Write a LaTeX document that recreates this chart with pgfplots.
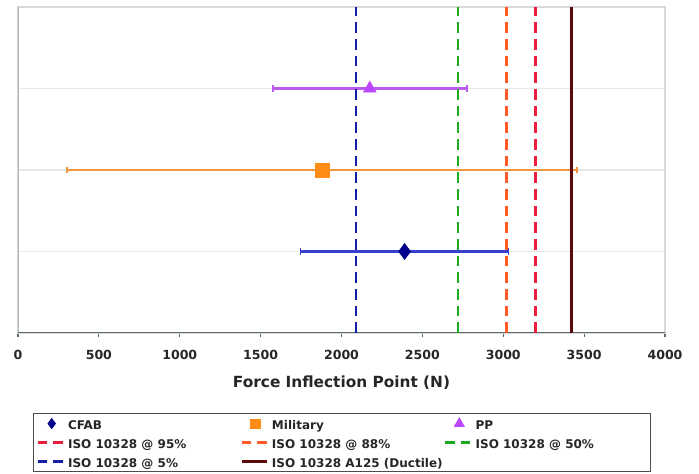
\documentclass[border=0pt]{standalone}
\usepackage{pgfplots}
\pgfplotsset{compat=1.18}
\usepackage{fontspec}
\setmainfont{DejaVu Sans}
\definecolor{cfabM}{RGB}{0,0,140}
\definecolor{cfabB}{RGB}{55,65,205}
\definecolor{milM}{RGB}{255,140,20}
\definecolor{milB}{RGB}{242,150,60}
\definecolor{ppM}{RGB}{190,70,255}
\definecolor{ppB}{RGB}{185,90,240}
\definecolor{iso95}{RGB}{235,30,60}
\definecolor{iso88}{RGB}{255,90,40}
\definecolor{iso50}{RGB}{30,170,30}
\definecolor{iso5}{RGB}{20,30,170}
\definecolor{isoA}{RGB}{90,10,10}
\definecolor{axdark}{RGB}{90,105,105}
\newcommand{\LE}[1]{\makebox[129pt][l]{\rule[-4.5pt]{0pt}{14.25pt}#1}}
\pgfplotsset{
  markleg/.style={legend image code/.code={\draw[##1, mark size=#1] plot coordinates {(10.5pt,0pt)};}},
  dashleg/.style={legend image code/.code={\draw[##1, line width=2pt, dash pattern=on 7pt off 4.75pt] (0pt,0pt) -- (18.75pt,0pt);}},
  solidleg/.style={legend image code/.code={\draw[##1, line width=2.2pt] (0pt,0pt) -- (18.75pt,0pt);}},
  ebar/.style={forget plot, color=#1, line width=2pt, mark=|, mark size=2.6pt, mark options={line width=1.2pt}},
}
\begin{document}
\begin{tikzpicture}
\begin{axis}[
  at={(0,0)}, anchor=south west,
  scale only axis, width=485.25pt, height=244.5pt,
  xmin=0, xmax=4000, ymin=0, ymax=4,
  xtick={0,500,...,4000},
  ytick={1,2,3}, yticklabels={},
  ymajorgrids, major grid style={color=gray!18, line width=1pt},
  ytick style={draw=none},
  tick align=outside, tick pos=left,
  major tick length=3pt,
  xtick style={color=axdark, line width=0.9pt},
  axis line style={color=gray!30, line width=0.8pt},
  xticklabel style={font=\bfseries\fontsize{9.4}{11}\selectfont, color=black!85, yshift=-6pt},
  /pgf/number format/assume math mode=true,
  /pgf/number format/1000 sep={},
  xlabel={Force Inflection Point (N)},
  xlabel style={font=\bfseries\fontsize{11.5}{13}\selectfont, color=black!85, at={(axis description cs:0.5,-0.1534)}, anchor=center},
  legend columns=3,
  legend cell align=left,
  legend style={at={(0.02318,-0.2454)}, anchor=north west, draw=gray!60!black, line width=0.6pt,
    inner xsep=2.25pt, inner ysep=2pt, row sep=3pt, column sep=0pt,
    font=\bfseries\fontsize{9}{11}\selectfont, text=black!85,
    nodes={inner sep=0pt},
    /tikz/every odd column/.append style={column sep=3pt}},
]
\draw[color=gray!55, line width=0.8pt] (rel axis cs:0,0) -- (rel axis cs:0,1);
\draw[color=axdark, line width=1.5pt] (rel axis cs:0,0) -- (rel axis cs:1,0);

% error bars (mean -/+ spread)
\addplot[ebar=cfabB] coordinates {(1747,1) (3033,1)};
\addplot[ebar=milB] coordinates {(303,2) (3457,2)};
\addplot[ebar=ppB] coordinates {(1575,3) (2775,3)};

\addplot[only marks, mark=diamond*, mark size=6pt, color=cfabM, markleg=3.75pt]
  coordinates {(2390,1)};
\addlegendentry{\LE{CFAB}}
\addplot[only marks, mark=square*, mark size=5.2pt, color=milM, markleg=3.5pt]
  coordinates {(1880,2)};
\addlegendentry{\LE{Military}}
\addplot[only marks, mark=triangle*, mark size=5.5pt, color=ppM, markleg=4.2pt]
  coordinates {(2175,3)};
\addlegendentry{\LE{PP}}

\addplot[iso95, line width=2pt, dash pattern=on 8pt off 4.5pt, dashleg] coordinates {(3200,0) (3200,4)};
\addlegendentry{\LE{ISO 10328 @ 95\%}}
\addplot[iso88, line width=2pt, dash pattern=on 8pt off 4.5pt, dashleg] coordinates {(3021,0) (3021,4)};
\addlegendentry{\LE{ISO 10328 @ 88\%}}
\addplot[iso50, line width=2pt, dash pattern=on 8pt off 4.5pt, dashleg] coordinates {(2720,0) (2720,4)};
\addlegendentry{\LE{ISO 10328 @ 50\%}}
\addplot[iso5, line width=2pt, dash pattern=on 8pt off 4.5pt, dashleg] coordinates {(2090,0) (2090,4)};
\addlegendentry{\LE{ISO 10328 @ 5\%}}
\addplot[isoA, line width=2.2pt, solidleg] coordinates {(3421,0) (3421,4)};
\addlegendentry{\LE{ISO 10328 A125 (Ductile)}}
\end{axis}
\pgfresetboundingbox
\path (-13.5pt,-105.75pt) rectangle (510.75pt,249.75pt);
\end{tikzpicture}
\end{document}
